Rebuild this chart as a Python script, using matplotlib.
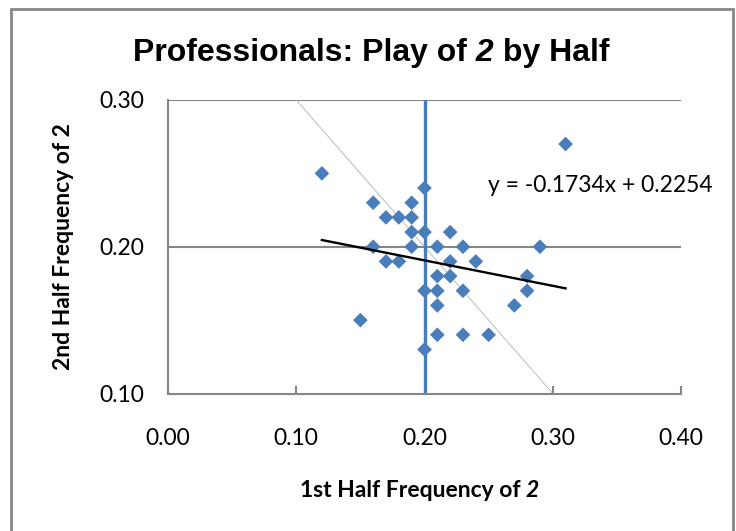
import matplotlib
matplotlib.use("Agg")
import matplotlib.pyplot as plt
from matplotlib.patches import Rectangle

# 1st half / 2nd half frequency of playing 2, one point per professional
first_half = [0.12, 0.31, 0.20, 0.16, 0.19, 0.17, 0.18, 0.19, 0.19, 0.20,
              0.22, 0.16, 0.19, 0.21, 0.23, 0.29, 0.17, 0.18, 0.22, 0.24,
              0.21, 0.22, 0.28, 0.20, 0.21, 0.23, 0.28, 0.21, 0.27, 0.15,
              0.21, 0.23, 0.25, 0.20]
second_half = [0.25, 0.27, 0.24, 0.23, 0.23, 0.22, 0.22, 0.22, 0.21, 0.21,
               0.21, 0.20, 0.20, 0.20, 0.20, 0.20, 0.19, 0.19, 0.19, 0.19,
               0.18, 0.18, 0.18, 0.17, 0.17, 0.17, 0.17, 0.16, 0.16, 0.15,
               0.14, 0.14, 0.14, 0.13]

# linear trend fitted in the spreadsheet
slope = -0.1734
intercept = 0.2254

x_ticks = [0.00, 0.10, 0.20, 0.30, 0.40]
y_ticks = [0.10, 0.20, 0.30]

blue = "#4a7ebb"
grid_gray = "#868686"
label_font = "Lato"
title_font = "Liberation Sans"

fig = plt.figure(figsize=(7.36, 5.31), dpi=100)
ax = fig.add_axes([168 / 736, 1 - 393.5 / 531, (681 - 168) / 736, (393.5 - 100) / 531])

# outer chart frame
fig.patches.append(Rectangle((11 / 736, -0.05), (733 - 11) / 736, 1 - 9 / 531 + 0.05,
                             transform=fig.transFigure, fill=False,
                             edgecolor=grid_gray, linewidth=2))

ax.set_xlim(0, 0.40)
ax.set_ylim(0.10, 0.30)
ax.set_xticks(x_ticks)
ax.set_yticks(y_ticks)
ax.set_xticklabels([f"{v:.2f}" for v in x_ticks], fontfamily=label_font, fontsize=16.5)
ax.set_yticklabels([f"{v:.2f}" for v in y_ticks], fontfamily=label_font, fontsize=16.5)
ax.tick_params(axis="x", direction="in", length=6, width=1.5, color=grid_gray, pad=25)
ax.tick_params(axis="y", length=0, pad=17)

for side in ["top", "right"]:
    ax.spines[side].set_visible(False)
for side in ["left", "bottom"]:
    ax.spines[side].set_color(grid_gray)
    ax.spines[side].set_linewidth(1.5)

for yv in y_ticks[1:]:
    ax.axhline(yv, color=grid_gray, linewidth=1.5, zorder=1)

# x + y = 0.4 reference line
ax.plot([0.10, 0.30], [0.30, 0.10], color="#b0b0b0", linewidth=0.6, zorder=2)

# median 1st-half frequency
ax.axvline(0.20, color=blue, linewidth=2.4, zorder=2)

ax.scatter(first_half, second_half, marker="D", s=56, color=blue,
           edgecolors="none", zorder=3)

x0, x1 = min(first_half), max(first_half)
ax.plot([x0, x1], [slope * x0 + intercept, slope * x1 + intercept],
        color="black", linewidth=1.7, zorder=4)
ax.text(0.2495, 0.2415, f"y = {slope:.4f}x + {intercept:.4f}",
        fontfamily=label_font, fontsize=16.5, ha="left", va="center",
        clip_on=False, zorder=5)

# title with the italic 2
t1 = fig.text(133 / 736, 1 - 61 / 531, "Professionals: Play of",
              fontfamily=title_font, fontsize=23, fontweight="bold",
              ha="left", va="baseline")
t2 = fig.add_artist(plt.Annotation(" 2", xy=(1, 0), xycoords=t1, ha="left", va="bottom",
                                   fontfamily=title_font, fontsize=23,
                                   fontweight="bold", fontstyle="italic"))
fig.add_artist(plt.Annotation(" by Half", xy=(1, 0), xycoords=t2, ha="left", va="bottom",
                              fontfamily=title_font, fontsize=23, fontweight="bold"))

# x axis label with the italic 2
xl1 = fig.text(300 / 736, 1 - 497 / 531, "1st Half Frequency of",
               fontfamily=label_font, fontsize=16.5, fontweight="bold",
               ha="left", va="baseline")
fig.add_artist(plt.Annotation(" 2", xy=(1, 0), xycoords=xl1, ha="left", va="bottom",
                              fontfamily=label_font, fontsize=16.5,
                              fontweight="bold", fontstyle="italic"))

fig.text(63 / 736, 1 - 247 / 531, "2nd Half Frequency of 2", rotation=90,
         fontfamily=label_font, fontsize=16.5, fontweight="bold",
         ha="center", va="center")

fig.savefig("out.png", dpi=100)
